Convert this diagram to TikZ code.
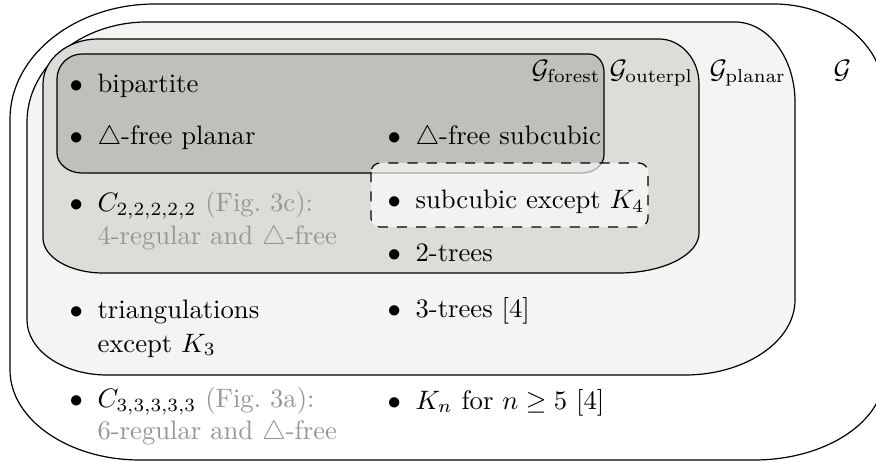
\documentclass[tikz,border=0pt]{standalone}
\usetikzlibrary{calc}
\definecolor{forestc}{RGB}{193,191,186}
\definecolor{outerc}{RGB}{222,220,216}
\definecolor{planarc}{RGB}{245,244,242}
\definecolor{tgray}{RGB}{150,150,150}
\newcommand\itm{\makebox[10.5pt][l]{$\bullet$}}
\begin{document}
\begin{tikzpicture}[x=0.375pt,y=-0.375pt,
  region/.style={draw=black,line width=0.45pt},
  txt/.style={anchor=base west,inner sep=0pt,font=\normalsize},
  gtxt/.style={txt,text=tgray}]
\useasboundingbox (0,0) rectangle (876,462);
% G (all graphs)
\path[region,fill=white]
  (10,119) .. controls (10,55.75) and (75.25,4) .. (155,4)
  -- (774,4) .. controls (833.5,4) and (884,44.5) .. (884,94)
  -- (884,375) .. controls (884,421.75) and (825.5,460) .. (754,460)
  -- (140,460) .. controls (68.5,460) and (10,419.5) .. (10,370) -- cycle;
% planar
\path[region,fill=planarc]
  (27,122) .. controls (27,67) and (81,22) .. (147,22)
  -- (735,22) .. controls (768,22) and (795,58) .. (795,102)
  -- (795,300) .. controls (795,341.25) and (745.5,375) .. (685,375)
  -- (107,375) .. controls (63,375) and (27,350.25) .. (27,320) -- cycle;
% outerplanar
\path[region,fill=outerc]
  (43,84) .. controls (43,59.25) and (67.75,39) .. (98,39)
  -- (659,39) .. controls (681,39) and (699,59.25) .. (699,84)
  -- (699,233) .. controls (699,255) and (663,273) .. (619,273)
  -- (103,273) .. controls (70,273) and (43,257.25) .. (43,238) -- cycle;
% forest
\path[region,fill=forestc]
  (57,79) .. controls (57,65.25) and (68.25,54) .. (82,54)
  -- (589,54) .. controls (597.25,54) and (604,62.1) .. (604,72)
  -- (604,155) .. controls (604,164.9) and (594.1,173) .. (582,173)
  -- (82,173) .. controls (68.25,173) and (57,164) .. (57,153) -- cycle;
% dashed region
\path[draw=black,line width=0.45pt,dash pattern=on 3.8pt off 3.4pt,
  fill=white,fill opacity=0.65,rounded corners=3.4pt]
  (371,163) rectangle (648,227);
% labels
\node[txt] (lf) at (531,79) {$\mathcal{G}_{\mathrm{forest}}$};
\node[txt] (lo) at (609,79) {$\mathcal{G}_{\mathrm{outerpl}}$};
\node[txt] (lp) at (709,79) {$\mathcal{G}_{\mathrm{planar}}$};
\node[txt] (lg) at (833,79) {$\mathcal{G}$};
% items
\node[txt] (b1) at (69,93) {\itm bipartite};
\node[txt] (b2) at (69,145) {\itm $\triangle$-free planar};
\node[txt] (b3) at (387,145) {\itm $\triangle$-free subcubic};
\node[txt] (b4) at (69,212) {\itm $C_{2,2,2,2,2}$ {\color{tgray}(Fig.~3c):}};
\node[gtxt] (b4b) at (97,245) {4-regular and $\triangle$-free};
\node[txt] (b5) at (387,209) {\itm subcubic except $K_4$};
\node[txt] (b6) at (387,262) {\itm 2-trees};
\node[txt] (b7) at (69,319) {\itm triangulations};
\node[txt] (b7b) at (97,352) {except $K_3$};
\node[txt] (b8) at (387,318) {\itm 3-trees [4]};
\node[txt] (b9) at (69,408) {\itm $C_{3,3,3,3,3}$ {\color{tgray}(Fig.~3a):}};
\node[gtxt] (b9b) at (97,439) {6-regular and $\triangle$-free};
\node[txt] (b10) at (387,409) {\itm $K_n$ for $n\geq 5$ [4]};
\end{tikzpicture}
\end{document}
